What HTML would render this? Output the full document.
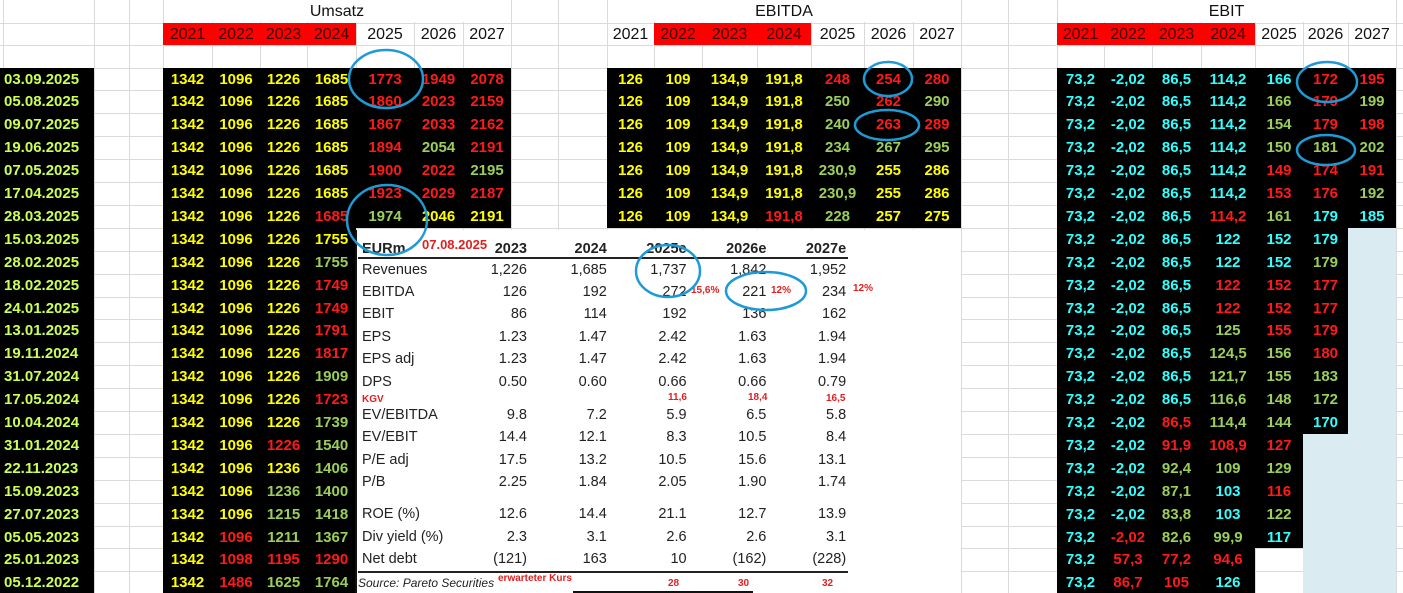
<!DOCTYPE html>
<html><head><meta charset="utf-8">
<style>
html,body{margin:0;padding:0;background:#fff;}
#root{position:relative;width:1403px;height:593px;overflow:hidden;background:#fff;font-family:"Liberation Sans",sans-serif;}
.a{position:absolute;}
.cell{position:absolute;text-align:center;font-weight:bold;font-size:15px;line-height:23px;white-space:nowrap;}
.hdr{position:absolute;text-align:center;font-size:16px;line-height:23px;color:#111;}
.pt{position:absolute;font-size:14.5px;color:#222;white-space:nowrap;line-height:18px;}
.pr{position:absolute;font-size:14.5px;color:#222;white-space:nowrap;text-align:right;width:70px;line-height:18px;}
.rd{position:absolute;color:#e02020;font-weight:bold;font-size:10px;white-space:nowrap;}
</style></head>
<body>
<div id="root"></div>
<script>
// ---- data ----
const dates = ["03.09.2025","05.08.2025","09.07.2025","19.06.2025","07.05.2025","17.04.2025","28.03.2025","15.03.2025","28.02.2025","18.02.2025","24.01.2025","13.01.2025","19.11.2024","31.07.2024","17.05.2024","10.04.2024","31.01.2024","22.11.2023","15.09.2023","27.07.2023","05.05.2023","25.01.2023","05.12.2022"];
const years = ["2021","2022","2023","2024","2025","2026","2027"];
// value+color code: y yellow, r red, g green, c cyan
const umsatzRows = [
"1342y 1096y 1226y 1685y 1773r 1949r 2078r",
"1342y 1096y 1226y 1685y 1860r 2023r 2159r",
"1342y 1096y 1226y 1685y 1867r 2033r 2162r",
"1342y 1096y 1226y 1685y 1894r 2054g 2191r",
"1342y 1096y 1226y 1685y 1900r 2022r 2195g",
"1342y 1096y 1226y 1685y 1923r 2029r 2187r",
"1342y 1096y 1226y 1685r 1974g 2046y 2191y",
"1342y 1096y 1226y 1755y","1342y 1096y 1226y 1755g","1342y 1096y 1226y 1749r","1342y 1096y 1226y 1749r",
"1342y 1096y 1226y 1791r","1342y 1096y 1226y 1817r","1342y 1096y 1226y 1909g","1342y 1096y 1226y 1723r",
"1342y 1096y 1226y 1739g","1342y 1096y 1226r 1540g","1342y 1096y 1236y 1406g","1342y 1096y 1236g 1400g",
"1342y 1096y 1215g 1418g","1342y 1096r 1211g 1367g","1342y 1098r 1195r 1290r","1342y 1486r 1625g 1764g"];
const ebitdaRows = [
"126y 109y 134,9y 191,8y 248r 254r 280r",
"126y 109y 134,9y 191,8y 250g 262r 290g",
"126y 109y 134,9y 191,8y 240g 263r 289r",
"126y 109y 134,9y 191,8y 234g 267g 295g",
"126y 109y 134,9y 191,8y 230,9g 255y 286y",
"126y 109y 134,9y 191,8y 230,9g 255y 286y",
"126y 109y 134,9y 191,8r 228g 257y 275y"];
const ebitRows = [
"73,2c -2,02c 86,5c 114,2c 166c 172r 195r",
"73,2c -2,02c 86,5c 114,2c 166g 179r 199g",
"73,2c -2,02c 86,5c 114,2c 154g 179r 198r",
"73,2c -2,02c 86,5c 114,2c 150g 181g 202g",
"73,2c -2,02c 86,5c 114,2c 149r 174r 191r",
"73,2c -2,02c 86,5c 114,2c 153r 176r 192g",
"73,2c -2,02c 86,5c 114,2r 161g 179c 185c",
"73,2c -2,02c 86,5c 122c 152c 179c",
"73,2c -2,02c 86,5c 122c 152c 179g",
"73,2c -2,02c 86,5c 122r 152r 177r",
"73,2c -2,02c 86,5c 122r 152r 177r",
"73,2c -2,02c 86,5c 125g 155r 179r",
"73,2c -2,02c 86,5c 124,5g 156g 180r",
"73,2c -2,02c 86,5c 121,7g 155g 183g",
"73,2c -2,02c 86,5c 116,6g 148g 172g",
"73,2c -2,02c 86,5r 114,4g 144g 170c",
"73,2c -2,02c 91,9r 108,9r 127r",
"73,2c -2,02c 92,4g 109g 129g",
"73,2c -2,02c 87,1g 103c 116r",
"73,2c -2,02c 83,8g 103c 122g",
"73,2c -2,02r 82,6g 99,9g 117c",
"73,2c 57,3r 77,2r 94,6r",
"73,2c 86,7r 105r 126c"];
// pasted report table
const repCols = ["2023","2024","2025e","2026e","2027e"];
const repLabels = ["Revenues","EBITDA","EBIT","EPS","EPS adj","DPS","EV/EBITDA","EV/EBIT","P/E adj","P/B","ROE (%)","Div yield (%)","Net debt"];
const repValues = [
["1,226","1,685","1,737","1,842","1,952"],["126","192","272","221","234"],["86","114","192","136","162"],
["1.23","1.47","2.42","1.63","1.94"],["1.23","1.47","2.42","1.63","1.94"],["0.50","0.60","0.66","0.66","0.79"],
["9.8","7.2","5.9","6.5","5.8"],["14.4","12.1","8.3","10.5","8.4"],["17.5","13.2","10.5","15.6","13.1"],
["2.25","1.84","2.05","1.90","1.74"],["12.6","14.4","21.1","12.7","13.9"],["2.3","3.1","2.6","2.6","3.1"],
["(121)","163","10","(162)","(228)"]];
const repY = [270,292,314,337,359,382,415,437,460,482,514,537,559];

// ---- layout ----
const root = document.getElementById('root');
const COLOR = {y:'#ffff00', r:'#ff1a1a', g:'#9bcf5a', c:'#33ffff'};
const RH = 22.9, R0 = 67.5;
const rt = i => R0 + i*RH;
const vlines = [3,94,129,163,212,260,307,356,414,463,511,558,607,654,702,757,811,864,913,961,1008,1057,1104,1152,1201,1255,1303,1348,1396];
const uCols = [163,212,260,307,356,414,463,511];
const eCols = [607,654,702,757,811,864,913,961];
const bCols = [1057,1104,1152,1201,1255,1303,1348,1396];

function box(x,y,w,h,bg,name){
  const d=document.createElement('div');d.className='a';
  d.style.cssText=`left:${x}px;top:${y}px;width:${w}px;height:${h}px;background:${bg}`;
  
  
  root.appendChild(d);return d;
}
function txt(cls,x,y,w,t,color,name){
  const d=document.createElement('div');d.className=cls;
  d.style.left=x+'px';d.style.top=y+'px';if(w)d.style.width=w+'px';
  if(color)d.style.color=color;d.textContent=t;
  
  
  root.appendChild(d);return d;
}
// grid
[22.5,45].concat(dates.map((_,i)=>rt(i))).concat([rt(23)]).forEach(y=>box(0,y,1403,1,'#dadada','grid-row-line'));
vlines.forEach(x=>box(x,0,1,593,'#dadada','grid-col-line'));
// merged title cells
box(164,0,347,22,'#fff','umsatz-title-cell');
box(608,0,353,22,'#fff','ebitda-title-cell');
box(1058,0,338,22,'#fff','ebit-title-cell');
// header red
box(163,22.5,193,22.5,'#ff0000','umsatz-actual-header');
box(654,22.5,157,22.5,'#ff0000','ebitda-actual-header');
box(1057,22.5,198,22.5,'#ff0000','ebit-actual-header');
txt('hdr',163,0,348,'Umsatz',null,'umsatz-title');
txt('hdr',607,0,354,'EBITDA',null,'ebitda-title');
txt('hdr',1057,0,339,'EBIT',null,'ebit-title');
years.forEach((yv,k)=>{
  txt('hdr',uCols[k],22.5,uCols[k+1]-uCols[k],yv,k<4?'#3a0000':'#111','umsatz-year-header');
  txt('hdr',eCols[k],22.5,eCols[k+1]-eCols[k],yv,(k>=1&&k<4)?'#3a0000':'#111','ebitda-year-header');
  txt('hdr',bCols[k],22.5,bCols[k+1]-bCols[k],yv,k<4?'#3a0000':'#111','ebit-year-header');
});
// black blocks
box(0,R0,94,593-R0,'#000','date-column-bg');
box(163,R0,348,7*RH,'#000','umsatz-block');
box(163,rt(7),193,593-rt(7),'#000','umsatz-history-block');
box(607,R0,354,7*RH,'#000','ebitda-block');
box(1057,R0,198,593-R0,'#000','ebit-block');
box(1255,R0,48,21*RH,'#000','ebit-2025-block');
box(1303,R0,45,16*RH,'#000','ebit-2026-block');
box(1348,R0,48,7*RH,'#000','ebit-2027-block');
box(1348,rt(7),48,593-rt(7),'#daecf2','ebit-2027-empty');
box(1303,rt(16),45,593-rt(16),'#daecf2','ebit-2026-empty');
// dates
dates.forEach((d,i)=>{const e=txt('cell',4,rt(i),null,d,'#ccff55','date-label');e.style.textAlign='left';});
function fill(rows,cols,prefix){
  rows.forEach((r,i)=>{
    r.split(' ').forEach((tok,k)=>{
      const v=tok.slice(0,-1), c=tok.slice(-1);
      txt('cell',cols[k],rt(i),cols[k+1]-cols[k],v,COLOR[c],prefix+'-value');
    });
  });
}
fill(umsatzRows,uCols,'umsatz');
fill(ebitdaRows,eCols,'ebitda');
fill(ebitRows,bCols,'ebit');

// pasted report image
box(355,230,606,363,'#fff','pareto-estimates-image');
box(355,230,2,363,'#111','image-left-edge');
txt('pt',362,240,null,'EURm','#222','eurm-label').style.fontWeight='bold';
txt('rd',422,237,null,'07.08.2025',null,'report-date').style.fontSize='13px';
repCols.forEach((c,k)=>{const e=txt('pr',457+k*79.8,240,null,c,'#222','report-year-header');e.style.fontWeight='bold';});
box(358,257,490,2,'#222','header-rule');
repLabels.forEach((l,i)=>txt('pt',362,repY[i]-9,null,l,'#222','report-row-label'));
repValues.forEach((row,i)=>row.forEach((v,k)=>txt('pr',457+k*79.8,repY[i]-9,null,v,'#222','report-value')));
box(358,571,490,2,'#222','footer-rule');
const src=txt('pt',358,574,null,'Source: Pareto Securities','#222','source-note');src.style.fontStyle='italic';src.style.fontSize='12px';
txt('rd',362,394,null,'KGV',null,'kgv-label');
[['15,6%',691,285],['12%',771,285],['12%',853,283],['11,6',668,392],['18,4',748,392],['16,5',826,393],['erwarteter Kurs',498,573],['28',668,578],['30',738,578],['32',822,578]]
 .forEach(a=>txt('rd',a[1],a[2],null,a[0],null,'annotation'));
box(573,591,180,2,'#111','bottom-edge');

// blue ellipses
const svgNS='http://www.w3.org/2000/svg';
const svg=document.createElementNS(svgNS,'svg');
svg.setAttribute('width','1403');svg.setAttribute('height','593');
svg.style.cssText='position:absolute;left:0;top:0';


[[386,79,37,29],[387,220,40,35],[888,79,24,17],[887,125,32,15],[1327,82,30,20],[1326,150,29,15],[668,271,32,26],[766,291,40,19]].forEach(e=>{
  const el=document.createElementNS(svgNS,'ellipse');
  el.setAttribute('cx',e[0]);el.setAttribute('cy',e[1]);el.setAttribute('rx',e[2]);el.setAttribute('ry',e[3]);
  el.setAttribute('fill','none');el.setAttribute('stroke','#1e9ad6');el.setAttribute('stroke-width','2.5');
  
  
  svg.appendChild(el);
});
root.appendChild(svg);
</script>
</body></html>
